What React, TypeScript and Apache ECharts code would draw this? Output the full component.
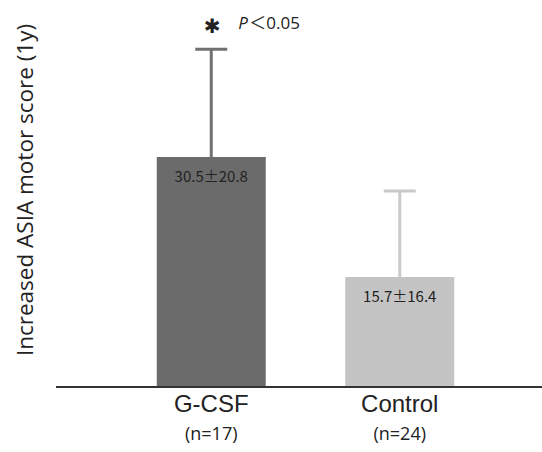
import React, { useEffect, useRef } from "react";
import * as echarts from "echarts";

const categories = ["G-CSF", "Control"];
const groupSizes = ["(n=17)", "(n=24)"];
// bar heights and error-bar tops as drawn in the figure (axis units)
const barHeights = [30.5, 14.6];
const errorTops = [44.8, 26.0];
const meanSdLabels = ["30.5±20.8", "15.7±16.4"];
const significance = ["＜0.05", ""];
const yTitle = "Increased ASIA motor score (1y)";
const barColors = ["#6b6b6b", "#c4c4c4"];
const errorColors = ["#707070", "#c9c9c9"];

export default function App() {
  const ref = useRef<HTMLDivElement>(null);
  useEffect(() => {
    document.body.style.margin = "0";
    const chart = echarts.init(ref.current!, null, { renderer: "svg" });
    chart.setOption({
      animation: false,
      grid: { left: 117, right: 48, top: 10, bottom: 65 },
      xAxis: {
        type: "category",
        data: categories,
        axisLine: { show: false },
        axisTick: { show: false },
        axisLabel: {
          margin: 3,
          formatter: (v: string, i: number) => `{a|${v}}\n{b|${groupSizes[i]}}`,
          rich: {
            a: { fontFamily: "Liberation Sans", fontSize: 24, lineHeight: 26, color: "#222" },
            b: { fontFamily: "Open Sans", fontSize: 18, lineHeight: 34, color: "#222" },
          },
        },
      },
      yAxis: {
        type: "value",
        min: 0,
        max: 50,
        axisLine: { show: false },
        axisTick: { show: false },
        axisLabel: { show: false },
        splitLine: { show: false },
      },
      graphic: [
        {
          type: "line",
          shape: { x1: 56, y1: 387, x2: 542, y2: 387 },
          style: { stroke: "#333", lineWidth: 2 },
          z: 10,
        },
        {
          type: "text",
          x: 24,
          y: 190,
          rotation: Math.PI / 2,
          style: {
            text: yTitle,
            align: "center",
            verticalAlign: "middle",
            fontFamily: "Open Sans",
            fontSize: 22.5,
            fill: "#222",
          },
        },
      ],
      series: [
        {
          type: "bar",
          barWidth: 109,
          data: barHeights.map((v, i) => ({ value: v, itemStyle: { color: barColors[i] } })),
          label: {
            show: true,
            position: "insideTop",
            distance: 11,
            formatter: (p: any) => meanSdLabels[p.dataIndex],
            fontFamily: "Noto Sans CJK SC",
            fontSize: 15,
            color: "#222",
          },
        },
        {
          type: "custom",
          data: categories.map((_, i) => [i, barHeights[i], errorTops[i]]),
          renderItem: (params: any, api: any) => {
            const i = params.dataIndex;
            const base = api.coord([api.value(0), api.value(1)]);
            const top = api.coord([api.value(0), api.value(2)]);
            const children: any[] = [
              {
                type: "line",
                shape: { x1: base[0], y1: base[1], x2: top[0], y2: top[1] },
                style: { stroke: errorColors[i], lineWidth: 3 },
              },
              {
                type: "line",
                shape: { x1: top[0] - 16, y1: top[1], x2: top[0] + 16, y2: top[1] },
                style: { stroke: errorColors[i], lineWidth: 3 },
              },
            ];
            if (significance[i]) {
              children.push({
                type: "text",
                style: {
                  x: top[0] + 1,
                  y: top[1] - 23,
                  text: "✱",
                  align: "center",
                  verticalAlign: "middle",
                  fontFamily: "DejaVu Sans",
                  fontSize: 20,
                  fill: "#222",
                },
              });
              children.push({
                type: "text",
                style: {
                  x: top[0] + 27,
                  y: top[1] - 27,
                  text: "P",
                  align: "left",
                  verticalAlign: "middle",
                  fontFamily: "Open Sans",
                  fontStyle: "italic",
                  fontSize: 17,
                  fill: "#222",
                },
              });
              children.push({
                type: "text",
                style: {
                  x: top[0] + 38,
                  y: top[1] - 27,
                  text: significance[i],
                  align: "left",
                  verticalAlign: "middle",
                  fontFamily: "Open Sans, Noto Sans CJK SC",
                  fontSize: 17,
                  fill: "#222",
                },
              });
            }
            return { type: "group", children };
          },
        },
      ],
    });
    return () => chart.dispose();
  }, []);
  return <div ref={ref} style={{ width: 542, height: 452 }} />;
}
